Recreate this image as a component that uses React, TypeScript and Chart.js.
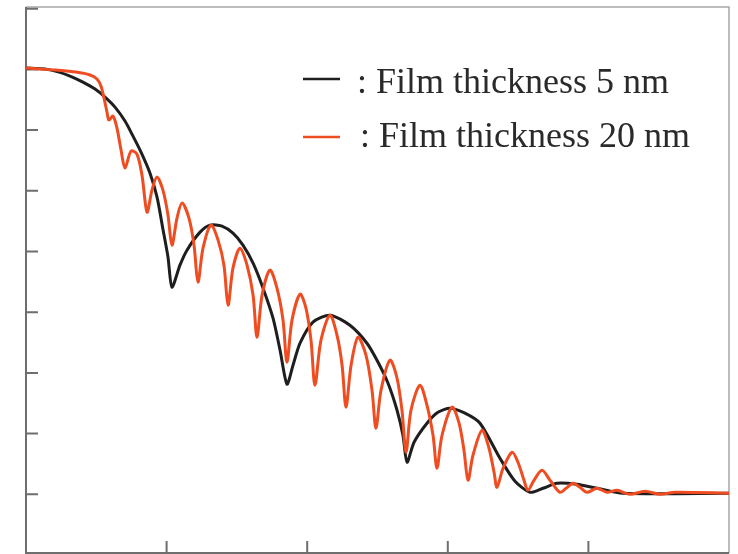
import React, { useEffect, useRef } from "react";
import { Chart, registerables } from "chart.js";

Chart.register(...registerables);

const LABELS = ["Film thickness 5 nm", "Film thickness 20 nm"];
const X_TICKS = [1, 2, 3, 4];
const Y_TICKS = [1, 2, 3, 4, 5, 6, 7, 8, 9];

const BLACK_X = [0, 0.135, 0.235, 0.313, 0.405, 0.491, 0.562, 0.633, 0.704, 0.761, 0.818, 0.882, 0.932, 0.974, 1.01, 1.038, 1.095, 1.145, 1.238, 1.309, 1.394, 1.472, 1.543, 1.615, 1.686, 1.757, 1.807, 1.856, 1.899, 1.949, 2.041, 2.162, 2.304, 2.425, 2.504, 2.575, 2.639, 2.681, 2.71, 2.76, 2.852, 2.93, 3.016, 3.122, 3.229, 3.371, 3.478, 3.585, 3.677, 3.777, 3.919, 4.061, 4.246, 5.0];
const BLACK_Y = [8.022, 8.006, 7.956, 7.89, 7.791, 7.676, 7.544, 7.379, 7.149, 6.901, 6.638, 6.291, 5.896, 5.368, 4.907, 4.412, 4.775, 5.022, 5.319, 5.434, 5.418, 5.302, 5.105, 4.808, 4.396, 3.901, 3.374, 2.814, 3.127, 3.489, 3.836, 3.951, 3.786, 3.489, 3.176, 2.83, 2.385, 1.973, 1.528, 1.858, 2.171, 2.352, 2.418, 2.336, 2.171, 1.594, 1.215, 1.033, 1.099, 1.182, 1.165, 1.099, 1.017, 1.017];

const RED_X = [0, 0.1, 0.213, 0.356, 0.455, 0.505, 0.533, 0.555, 0.576, 0.59, 0.619, 0.647, 0.676, 0.704, 0.747, 0.789, 0.825, 0.861, 0.896, 0.932, 0.974, 1.01, 1.038, 1.074, 1.11, 1.159, 1.195, 1.223, 1.259, 1.316, 1.366, 1.408, 1.437, 1.472, 1.522, 1.572, 1.615, 1.643, 1.679, 1.735, 1.785, 1.828, 1.856, 1.892, 1.949, 1.991, 2.027, 2.055, 2.098, 2.162, 2.212, 2.248, 2.276, 2.312, 2.361, 2.418, 2.461, 2.489, 2.525, 2.589, 2.639, 2.674, 2.703, 2.738, 2.802, 2.852, 2.895, 2.923, 2.959, 3.03, 3.08, 3.115, 3.144, 3.179, 3.243, 3.293, 3.329, 3.35, 3.393, 3.457, 3.499, 3.542, 3.57, 3.613, 3.67, 3.727, 3.798, 3.841, 3.89, 3.94, 3.99, 4.061, 4.132, 4.203, 4.296, 4.403, 4.509, 4.616, 5.0];
const RED_Y = [8.022, 8.006, 7.989, 7.956, 7.907, 7.841, 7.725, 7.528, 7.297, 7.165, 7.231, 7.033, 6.671, 6.374, 6.654, 6.605, 6.258, 5.649, 6.011, 6.226, 6.011, 5.599, 5.105, 5.55, 5.797, 5.55, 5.105, 4.495, 5.055, 5.434, 5.187, 4.775, 4.116, 4.726, 5.055, 4.775, 4.281, 3.588, 4.281, 4.693, 4.396, 3.869, 3.176, 3.869, 4.297, 4.066, 3.539, 2.797, 3.539, 3.951, 3.621, 3.127, 2.435, 3.127, 3.588, 3.292, 2.715, 2.088, 2.715, 3.209, 2.912, 2.385, 1.693, 2.385, 2.797, 2.467, 1.973, 1.429, 1.973, 2.435, 2.171, 1.726, 1.231, 1.643, 2.055, 1.759, 1.363, 1.116, 1.429, 1.693, 1.528, 1.231, 1.066, 1.231, 1.396, 1.231, 1.033, 1.099, 1.182, 1.116, 1.033, 1.099, 1.033, 1.066, 1.0, 1.05, 1.0, 1.033, 1.017];

const COLORS = ["#1e1e1e", "#ef4c21"];

const toPoints = (xs: number[], ys: number[]) => xs.map((x, i) => ({ x, y: ys[i] }));

const framePlugin = {
  id: "frame",
  beforeDatasetsDraw(chart: any) {
    const { ctx, chartArea } = chart;
    const { left, right, top, bottom } = chartArea;
    ctx.save();
    ctx.lineCap = "butt";
    ctx.strokeStyle = "#a8a8a8";
    ctx.lineWidth = 1.5;
    ctx.beginPath();
    ctx.moveTo(left, top);
    ctx.lineTo(right, top);
    ctx.lineTo(right, bottom);
    ctx.stroke();
    ctx.strokeStyle = "#6e6e6e";
    ctx.lineWidth = 2;
    ctx.beginPath();
    ctx.moveTo(left, top);
    ctx.lineTo(left, bottom);
    ctx.lineTo(right, bottom);
    ctx.stroke();
    const ys = chart.scales.y;
    const xs = chart.scales.x;
    ctx.beginPath();
    ys.ticks.forEach((t: any) => {
      const py = ys.getPixelForValue(t.value);
      ctx.moveTo(left, py);
      ctx.lineTo(left + 12, py);
    });
    xs.ticks.forEach((t: any) => {
      const px = xs.getPixelForValue(t.value);
      ctx.moveTo(px, bottom);
      ctx.lineTo(px, bottom - 12);
    });
    ctx.stroke();
    ctx.restore();
  },
};

const legendPlugin = {
  id: "insideLegend",
  afterDraw(chart: any) {
    const { ctx } = chart;
    const rows = [
      { lineY: 79, textX: 357, baseY: 93 },
      { lineY: 137, textX: 360, baseY: 147 },
    ];
    ctx.save();
    chart.data.datasets.forEach((ds: any, i: number) => {
      const r = rows[i];
      ctx.strokeStyle = ds.borderColor;
      ctx.lineWidth = 2.5;
      ctx.beginPath();
      ctx.moveTo(303, r.lineY);
      ctx.lineTo(340, r.lineY);
      ctx.stroke();
      ctx.fillStyle = "#2a2a2a";
      ctx.font = '36px "Liberation Serif", "Times New Roman", serif';
      ctx.textBaseline = "alphabetic";
      ctx.textAlign = "left";
      ctx.fillText(": " + ds.label, r.textX, r.baseY);
    });
    ctx.restore();
  },
};

export default function App() {
  const ref = useRef<HTMLCanvasElement | null>(null);
  useEffect(() => {
    document.body.style.margin = "0";
    const canvas = ref.current;
    if (!canvas) return;
    const chart = new Chart(canvas, {
      type: "line",
      data: {
        datasets: [
          {
            label: LABELS[0],
            data: toPoints(BLACK_X, BLACK_Y),
            borderColor: COLORS[0],
            borderWidth: 3,
            pointRadius: 0,
            tension: 0.25,
            fill: false,
            order: 1,
          },
          {
            label: LABELS[1],
            data: toPoints(RED_X, RED_Y),
            borderColor: COLORS[1],
            borderWidth: 3,
            pointRadius: 0,
            tension: 0.3,
            fill: false,
            order: 0,
          },
        ],
      },
      options: {
        responsive: false,
        animation: false,
        layout: { padding: { left: 26, top: 7, right: 9, bottom: 1 } },
        plugins: { legend: { display: false }, tooltip: { enabled: false } },
        scales: {
          x: {
            type: "linear",
            min: 0,
            max: 5,
            grid: { display: false, drawTicks: false },
            border: { display: false },
            ticks: { display: false },
            afterBuildTicks: (s: any) => {
              s.ticks = X_TICKS.map((v) => ({ value: v }));
            },
          },
          y: {
            type: "linear",
            min: 0.033,
            max: 9.028,
            grid: { display: false, drawTicks: false },
            border: { display: false },
            ticks: { display: false },
            afterBuildTicks: (s: any) => {
              s.ticks = Y_TICKS.map((v) => ({ value: v }));
            },
          },
        },
      },
      plugins: [framePlugin, legendPlugin],
    });
    return () => chart.destroy();
  }, []);
  return (
    <div style={{ position: "absolute", left: 0, top: 0, width: 738, height: 554, background: "#fff" }}>
      <canvas ref={ref} width={738} height={554} style={{ display: "block" }} />
    </div>
  );
}
